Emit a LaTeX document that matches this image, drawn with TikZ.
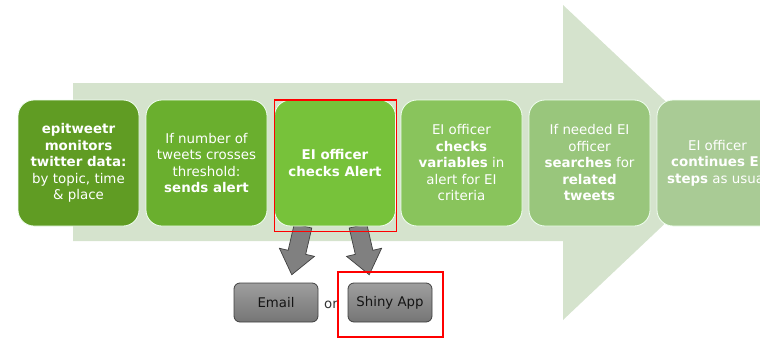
\documentclass[tikz,border=0pt]{standalone}
\usepackage{fontspec}
\setmainfont{DejaVu Sans}
\begin{document}
\begin{tikzpicture}[x=1pt,y=-1pt,
  step box/.style={rounded corners=16pt, minimum width=121pt, minimum height=126pt,
    draw=white!80!green!30, line width=0.8pt, text=white, align=center, inner sep=0pt,
    font=\fontsize{13.4}{16.5}\selectfont},
  grey box/.style={rounded corners=6pt, minimum width=84pt, minimum height=39pt,
    draw=black!75, line width=0.8pt, top color=black!38, bottom color=black!54,
    text=black!92, inner sep=0pt, font=\fontsize{13.3}{15}\selectfont},
  grey arrow/.style={fill=black!50, draw=black!75, line width=0.7pt, line join=miter},
  highlight/.style={draw=red, line width=1.8pt}
]
\definecolor{bgarrow}{HTML}{D5E3CD}
\definecolor{cA}{HTML}{609C23}
\definecolor{cB}{HTML}{6AAF2E}
\definecolor{cC}{HTML}{77C23A}
\definecolor{cD}{HTML}{89C45C}
\definecolor{cE}{HTML}{99C67C}
\definecolor{cF}{HTML}{A9CB95}
\useasboundingbox (0,0) rectangle (760,340);
\begin{scope}
\clip (0,0) rectangle (760,340);
% big background arrow
\fill[bgarrow] (73,83) -- (563,83) -- (563,5) -- (730,162) -- (563,320) -- (563,241) -- (73,241) -- cycle;

% grey block arrows (behind boxes)
\coordinate (la) at (303,226);
\coordinate (ra) at (358,226);
\begin{scope}[shift={(la)}, rotate=-13]
\draw[grey arrow] (-9,0) -- (9,0) -- (9,27) -- (18,27) -- (0,50) -- (-18,27) -- (-9,27) -- cycle;
\end{scope}
\begin{scope}[shift={(ra)}, rotate=13]
\draw[grey arrow] (-9,0) -- (9,0) -- (9,27) -- (18,27) -- (0,50) -- (-18,27) -- (-9,27) -- cycle;
\end{scope}

% step boxes
\node[step box, fill=cA] (s1) at (78.5,163) {\textbf{epitweetr}\\\textbf{monitors}\\\textbf{twitter data:}\\by topic, time\\\& place};
\node[step box, fill=cB] (s2) at (206.5,163) {If number of\\tweets crosses\\threshold:\\\textbf{sends alert}};
\node[step box, fill=cC] (s3) at (335,163) {\textbf{EI officer}\\\textbf{checks Alert}};
\node[step box, fill=cD] (s4) at (461.5,163) {EI officer\\\textbf{checks}\\\textbf{variables} in\\alert for EI\\criteria};
\node[step box, fill=cE] (s5) at (589.5,163) {If needed EI\\officer\\\textbf{searches} for\\\textbf{related}\\\textbf{tweets}};
\node[step box, fill=cF] (s6) at (717.5,163) {EI officer\\\textbf{continues EI}\\\textbf{steps} as usual};

% highlight around step 3
\draw[highlight] (274.5,100) rectangle (396.5,231.5);

% bottom boxes
\node[grey box] (email) at (276,302.5) {Email};
\node[grey box] (shiny) at (390,302.5) {Shiny App};
\node[text=black!80, font=\fontsize{13.3}{15}\selectfont, inner sep=0pt] (or) at (331,305) {or};
\draw[highlight] (338,272) rectangle (443,337);
\end{scope}
\end{tikzpicture}
\end{document}
